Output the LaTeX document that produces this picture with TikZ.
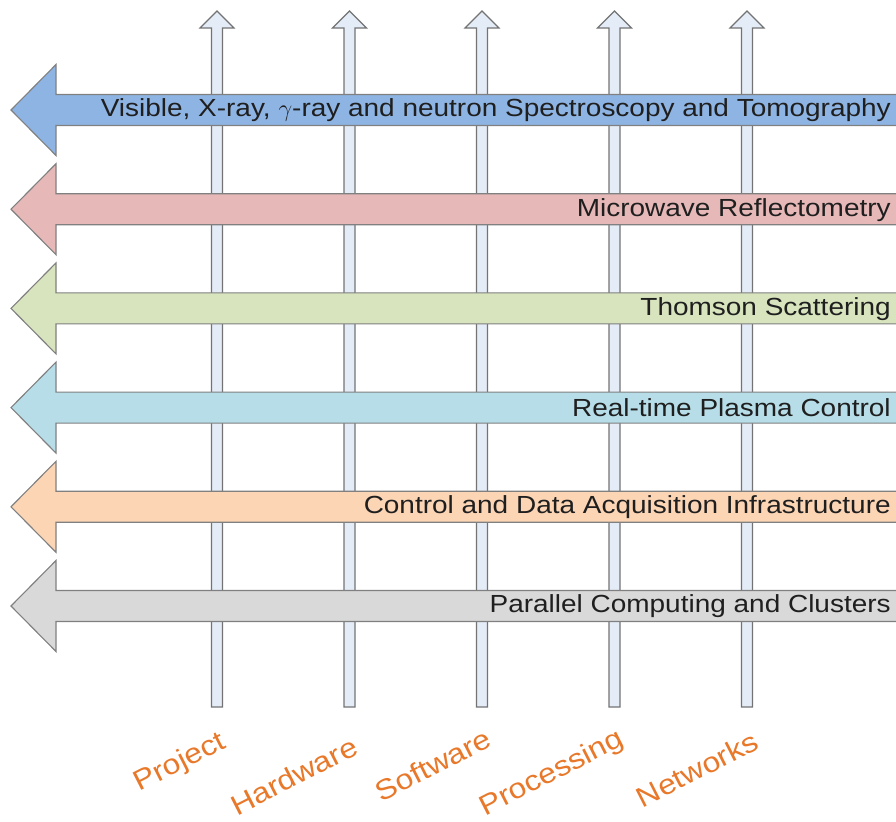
\documentclass[tikz,border=0pt]{standalone}
\usepackage{fontspec}
\setmainfont{Liberation Sans}[FakeStretch=1.13]
\definecolor{bandblue}{HTML}{8EB4E3}
\definecolor{bandred}{HTML}{E6B9B8}
\definecolor{bandgreen}{HTML}{D7E4BD}
\definecolor{bandcyan}{HTML}{B7DEE8}
\definecolor{bandorange}{HTML}{FCD5B5}
\definecolor{bandgrey}{HTML}{D9D9D9}
\definecolor{pillarfill}{HTML}{E4ECF7}
\definecolor{labelorange}{HTML}{E8782A}
\begin{document}
\begin{tikzpicture}[x=0.025cm, y=-0.025cm,
  band/.style={draw=black!50, line width=0.8pt, line join=miter},
  pillar/.style={draw=black!55, fill=pillarfill, line width=0.8pt},
  bandtext/.style={anchor=east, inner sep=0pt, text=black!88, font=\fontsize{17.6}{20}\selectfont},
  axistext/.style={rotate=27, inner sep=0pt, text=labelorange, font=\fontsize{20}{23}\selectfont}]
\useasboundingbox (0,0) rectangle (896,822);
\clip (0,0) rectangle (896,822);

% vertical arrows
\foreach \x [count=\i] in {217, 349.5, 482, 614.5, 747} {
  \draw[pillar] (\x-5.5,707) -- (\x-5.5,28) -- (\x-17,28) -- (\x,11)
    -- (\x+17,28) -- (\x+5.5,28) -- (\x+5.5,707) -- cycle;
}

% horizontal arrows
\foreach \c [count=\i from 0] in {bandblue, bandred, bandgreen, bandcyan, bandorange, bandgrey} {
  \pgfmathsetmacro\y{110+99.2*\i}
  \draw[band, fill=\c] (11,\y) -- (56,\y-45.5) -- (56,\y-15.5) -- (905,\y-15.5)
    -- (905,\y+15.5) -- (56,\y+15.5) -- (56,\y+45.5) -- cycle;
}

\foreach \t [count=\i from 0] in {{Visible, X-ray, $\gamma$-ray and neutron Spectroscopy and Tomography},
    Microwave Reflectometry, Thomson Scattering, Real-time Plasma Control,
    Control and Data Acquisition Infrastructure, Parallel Computing and Clusters} {
  \node[bandtext] (band \i) at (891, 110.5+99.2*\i) {\t};
}

\foreach \x/\y/\t [count=\i] in {180/763/Project, 294/776/Hardware, 433/765/Software,
    552/774/Processing, 697/769/Networks} {
  \node[axistext] (axis \i) at (\x,\y) {\t};
}
\end{tikzpicture}
\end{document}
